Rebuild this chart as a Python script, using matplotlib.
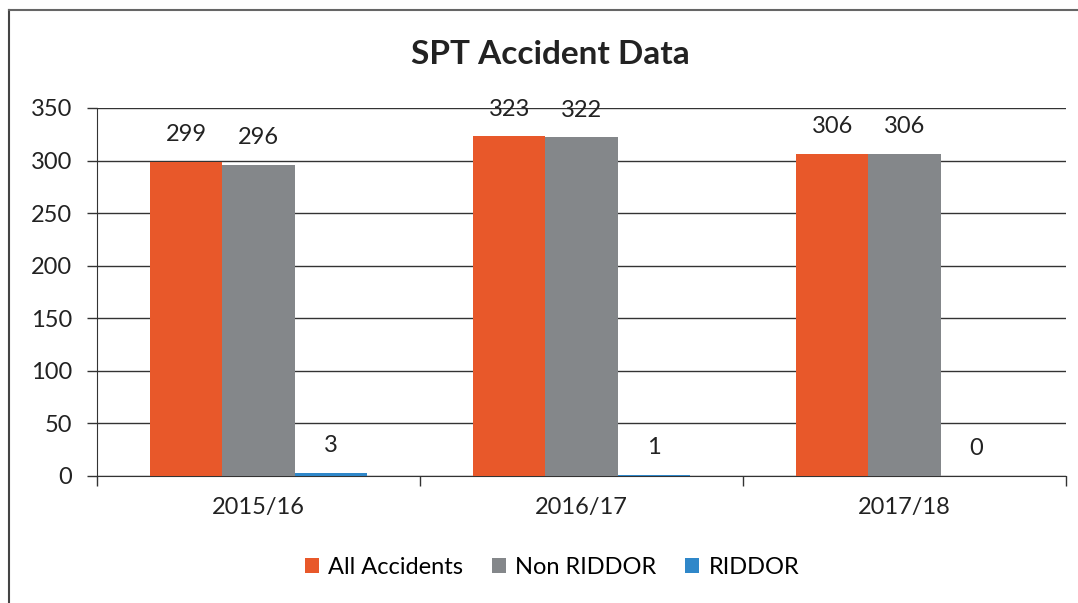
import numpy as np
import matplotlib.pyplot as plt
from matplotlib.lines import Line2D

plt.rcParams['font.family'] = ['Lato', 'DejaVu Sans']

years = ['2015/16', '2016/17', '2017/18']
all_accidents = [299, 323, 306]
non_riddor = [296, 322, 306]
riddor = [3, 1, 0]

series = [('All Accidents', all_accidents, '#e8582a'),
          ('Non RIDDOR', non_riddor, '#84878a'),
          ('RIDDOR', riddor, '#2f87c9')]

fig = plt.figure(figsize=(10.78, 6.03), dpi=100)
ax = fig.add_axes([97 / 1078, 1 - 476 / 603, (1066 - 97) / 1078, (476 - 108) / 603])

x = np.arange(len(years))
w = 0.223
fs = 17
for i, (name, vals, col) in enumerate(series):
    pos = x + (i - 1) * w
    ax.bar(pos, vals, w, color=col, label=name, zorder=3)
    for p, v in zip(pos, vals):
        ax.text(p, v + 26, str(v), ha='center', va='center', fontsize=fs, color='#222222')

ax.set_xlim(-0.5, 2.5)
ax.set_ylim(0, 350)
ax.set_yticks(range(0, 351, 50))
ax.set_xticks(x)
ax.set_xticklabels(years)
ax.set_xticks([-0.5, 0.5, 1.5, 2.5], minor=True)
ax.tick_params(axis='x', which='major', length=0, pad=15, labelsize=fs, colors='#222222')
ax.tick_params(axis='x', which='minor', length=7, width=1, direction='out', color='#333333')
ax.tick_params(axis='y', length=7, width=1, direction='out', pad=11, labelsize=fs, colors='#222222')
ax.tick_params(axis='y', color='#333333')
ax.yaxis.grid(True, color='#333333', linewidth=1)
ax.set_axisbelow(True)
for s in ['top', 'right']:
    ax.spines[s].set_visible(False)
ax.spines['left'].set_color('#333333')
ax.spines['bottom'].set_color('#333333')

fig.text(550 / 1078, 1 - 55 / 603, 'SPT Accident Data', ha='center', va='center',
         fontsize=24, fontweight='bold', color='#222222')

fig.legend(loc='center', bbox_to_anchor=(552 / 1078, 1 - 567 / 603), ncol=3, frameon=False,
           fontsize=fs, handlelength=0.6, handleheight=0.6, handletextpad=0.4, columnspacing=1.2)

fig.add_artist(Line2D([9 / 1078, 9 / 1078], [0, 1 - 10 / 603], transform=fig.transFigure,
                      color='#444444', linewidth=1.5))
fig.add_artist(Line2D([9 / 1078, 1], [1 - 10 / 603, 1 - 10 / 603], transform=fig.transFigure,
                      color='#666666', linewidth=1.5))

fig.savefig('out.png', dpi=100)
